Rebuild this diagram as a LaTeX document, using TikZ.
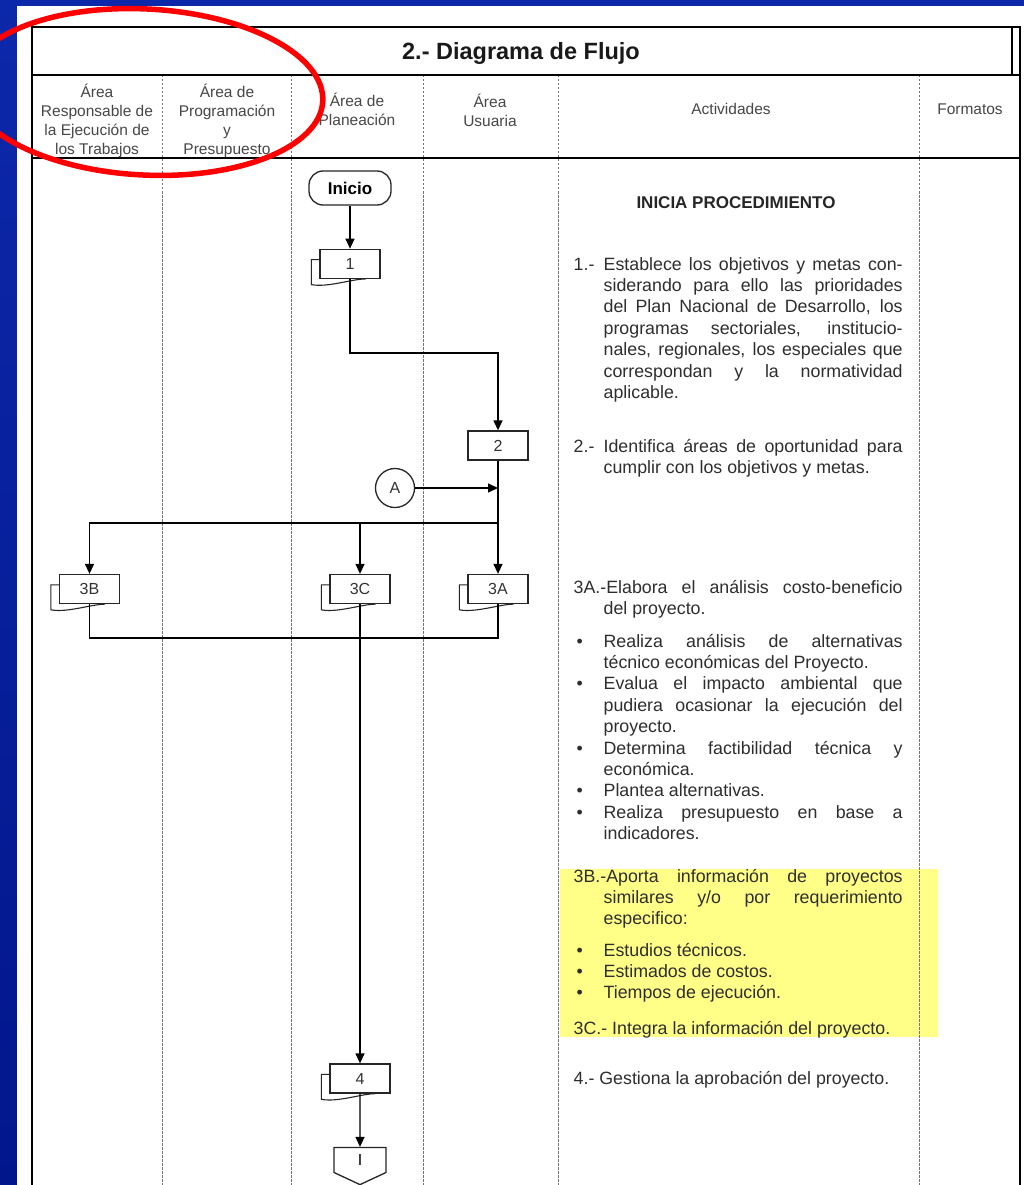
\documentclass[tikz,border=0pt]{standalone}
\usepackage{fontspec}
\setmainfont{Liberation Sans}
\usetikzlibrary{arrows.meta, positioning, shapes.symbols}

\definecolor{bgtop}{RGB}{12,40,170}
\definecolor{bgmid}{RGB}{20,78,228}
\definecolor{bgbot}{RGB}{2,22,140}
\definecolor{marker}{RGB}{255,255,135}

\hyphenpenalty=10000
\exhyphenpenalty=10000
\newcommand{\actpar}{\hangindent=30pt\hangafter=1\noindent}
\newcommand{\numlbl}[1]{\makebox[30pt][l]{#1}}
\newcommand{\bulmark}{\makebox[30pt][l]{\hspace{3pt}\textbullet}}
\newcommand{\bulitem}{\par\actpar\bulmark}

\begin{document}
\begin{tikzpicture}
	[x=1pt, y=-1pt, >={Triangle[length=10pt,width=9pt]}, line width=1.3pt,
	box/.style={rectangle, draw=black!85, fill=white, minimum width=60pt, minimum height=29pt, inner sep=0pt, text=black!80, font=\fontsize{16}{18}\selectfont},
	term/.style={rectangle, rounded corners=14pt, draw=black!85, fill=white, minimum width=82pt, minimum height=34pt, font=\bfseries\fontsize{17}{20}\selectfont},
	conn/.style={circle, draw=black!85, fill=white, minimum size=39pt, inner sep=0pt, text=black!80, font=\fontsize{16}{18}\selectfont},
	offpage/.style={signal, signal to=south, signal pointer angle=130, draw=black!85, fill=white, minimum width=52pt, minimum height=26pt, inner sep=0pt, font=\fontsize{16}{18}\selectfont},
	hdr/.style={align=center, anchor=base, text=black!72, font=\fontsize{15.5}{19.3}\selectfont},
	act/.style={anchor=base west, text width=329pt, align=justify, inner sep=0pt, text=black!82, font=\fontsize{17.8}{21.4}\selectfont},
	lane/.style={draw=black!55, line width=0.8pt, dash pattern=on 2.5pt off 1.5pt}]
	\useasboundingbox (0,0) rectangle (1024,1185);
	\shade[top color=bgtop, middle color=bgmid, bottom color=bgbot] (0,0) rectangle (1024,1185);
	\fill[white] (17,6) rectangle (1024,1185);
	\fill[marker] (560,869) rectangle (938,1037);

	% table
	\foreach \x in {162,291,423,558,919}
		\draw[lane] (\x,75) -- (\x,1190);
	\draw[line width=1.8pt] (32,1190) -- (32,27) -- (1020,27) -- (1020,1190);
	\draw[line width=1.5pt] (32,75) -- (1020,75) (32,158) -- (1020,158);
	\draw (1012,27) -- (1012,75);
	\node[anchor=base, text=black!90, font=\bfseries\fontsize{23.5}{26}\selectfont] (title) at (521,60) {2.- Diagrama de Flujo};
	% last baseline of each head
	\node[hdr] (h1) at (97,155) {Área\\Responsable de\\la Ejecución de\\los Trabajos};
	\node[hdr] (h2) at (227,155) {Área de\\Programación\\y\\Presupuesto};
	\node[hdr] (h3) at (357,126) {Área de\\Planeación};
	\node[hdr] (h4) at (490,127) {Área\\Usuaria};
	\node[hdr] (h5) at (731,115) {Actividades};
	\node[hdr] (h6) at (970,115) {Formatos};

	% flow
	\node[term] (ini) at (350,188) {Inicio};
	\node[box, below=43pt of ini] (b1) {1};
	\node[box] (b2) at (498,445.5) {2};
	\node[conn] (A) at (395,488) {A};
	\node[box] (b3b) at (89.5,589) {3B};
	\node[box] (b3c) at (360,589) {3C};
	\node[box] (b3a) at (498,589) {3A};
	\node[box] (b4) at (360,1078.5) {4};
	\node[offpage] (off) at (360,1160) {I};
	\foreach \n in {b1,b3b,b3c,b3a,b4}
		\draw[line width=1.1pt, draw=black!85] ([yshift=-11pt]\n.north west) -- ++(-8,0) -- ++(0,25)
			.. controls +(17,3) and +(-14,0) .. ([xshift=-15pt]\n.south east);

	\coordinate (bend1) at (498,353);
	\coordinate (jA) at (b2 |- A);
	\coordinate (split) at (498,523);
	\coordinate (loop) at (498,638);
	\draw[->] (ini) -- (b1);
	\draw[->] (b1.south) |- (bend1) -- (b2.north);
	\draw[->] (A) -- (jA);
	\draw[->] (b2) -- (b3a);
	\draw[->] (split) -| (b3b.north);
	\draw[->] (split -| b3c) -- (b3c.north);
	\draw (b3b.south) |- (loop) -- (b3a.south);
	\draw[->] (b3c) -- (b4);
	\draw[->] (b4) -- (off);

	% activities
	\node[anchor=base, text=black!85, font=\bfseries\fontsize{17}{20}\selectfont] (tini) at (736,208) {INICIA PROCEDIMIENTO};
	\node[act] (t1) at (573,270) {\actpar\numlbl{1.-}Establece los objetivos y metas con-\linebreak siderando para ello las prioridades\linebreak del Plan Nacional de Desarrollo, los\linebreak programas sectoriales, institucio-\linebreak nales, regionales, los especiales que\linebreak correspondan y la normatividad\linebreak aplicable.\par};
	\node[act] (t2) at (573,452) {\actpar\numlbl{2.-}Identifica áreas de oportunidad para\linebreak cumplir con los objetivos y metas.\par};
	\node[act] (t3a) at (573,593) {\actpar 3A.-Elabora el análisis costo-beneficio\linebreak del proyecto.\par};
	\node[act] (t3al) at (573,647) {\actpar\bulmark Realiza análisis de alternativas\linebreak técnico económicas del Proyecto.\bulitem Evalua el impacto ambiental que\linebreak pudiera ocasionar la ejecución del\linebreak proyecto.\bulitem Determina factibilidad técnica y\linebreak económica.\bulitem Plantea alternativas.\bulitem Realiza presupuesto en base a\linebreak indicadores.\par};
	\node[act] (t3b) at (573,882) {\actpar 3B.-Aporta información de proyectos\linebreak similares y/o por requerimiento\linebreak especifico:\par};
	\node[act] (t3bl) at (573,956) {\actpar\bulmark Estudios técnicos.\bulitem Estimados de costos.\bulitem Tiempos de ejecución.\par};
	\node[act] (t3c) at (573,1034) {3C.- Integra la información del proyecto.};
	\node[act] (t4) at (573,1084) {4.- Gestiona la aprobación del proyecto.};

	\draw[red, line width=5.5pt, rotate around={-3:(145,92)}] (145,92) ellipse [x radius=178pt, y radius=83pt];
\end{tikzpicture}
\end{document}
